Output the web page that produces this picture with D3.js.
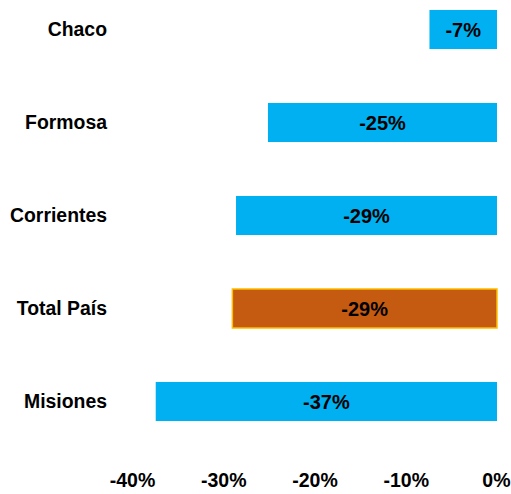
<!DOCTYPE html>
<html><head><meta charset="utf-8">
<script src="https://cdn.jsdelivr.net/npm/d3@7"></script>
<style>body{margin:0;background:#fff}svg{display:block}</style>
</head><body>
<script>
const categories = ["Chaco","Formosa","Corrientes","Total País","Misiones"];
const values = [-7.4, -25.1, -28.6, -29.0, -37.4];
const tickValues = [-40,-30,-20,-10,0];
const highlight = "Total País";

const W=511,H=494;
const svg=d3.select("body").append("svg").attr("width",W).attr("height",H);
const font="'Liberation Sans', Arial, sans-serif";

const x=d3.scaleLinear().domain([-40,0]).range([132,497]);
const y=d3.scaleBand().domain(categories).range([-17,448]).paddingInner(0.58).paddingOuter(0.29);

const data=categories.map((c,i)=>({c,v:values[i]}));

svg.selectAll("rect.bar").data(data).join("rect")
  .attr("class","bar")
  .attr("x",d=>x(d.v)).attr("width",d=>x(0)-x(d.v))
  .attr("y",d=>y(d.c)).attr("height",y.bandwidth())
  .attr("fill",d=>d.c===highlight?"#C55A11":"#00B0F0")
  .attr("stroke",d=>d.c===highlight?"#FFC000":"none")
  .attr("stroke-width",1.5);

svg.selectAll("text.val").data(data).join("text")
  .attr("class","val")
  .attr("x",d=>(x(d.v)+x(0))/2).attr("y",d=>y(d.c)+y.bandwidth()/2)
  .attr("dy","0.36em").attr("text-anchor","middle")
  .style("font-family",font).style("font-weight","bold").style("font-size","20px")
  .attr("fill","#000")
  .text(d=>Math.round(d.v)+"%");

const yAxis=svg.append("g").attr("transform","translate(107,0)")
  .call(d3.axisLeft(y).tickSize(0).tickPadding(0));
yAxis.select(".domain").remove();
yAxis.selectAll("text").style("font-family",font).style("font-weight","bold").style("font-size","19.4px").attr("fill","#000");

const xAxis=svg.append("g").attr("transform","translate(0,473)")
  .call(d3.axisBottom(x).tickValues(tickValues).tickFormat(d=>d+"%").tickSize(0).tickPadding(0));
xAxis.select(".domain").remove();
xAxis.selectAll("text").style("font-family",font).style("font-weight","bold").style("font-size","19.5px").attr("fill","#000");
xAxis.selectAll(".tick").filter(d=>d===0).select("text")
  .attr("text-anchor","end").attr("dx","13");
</script>
</body></html>
